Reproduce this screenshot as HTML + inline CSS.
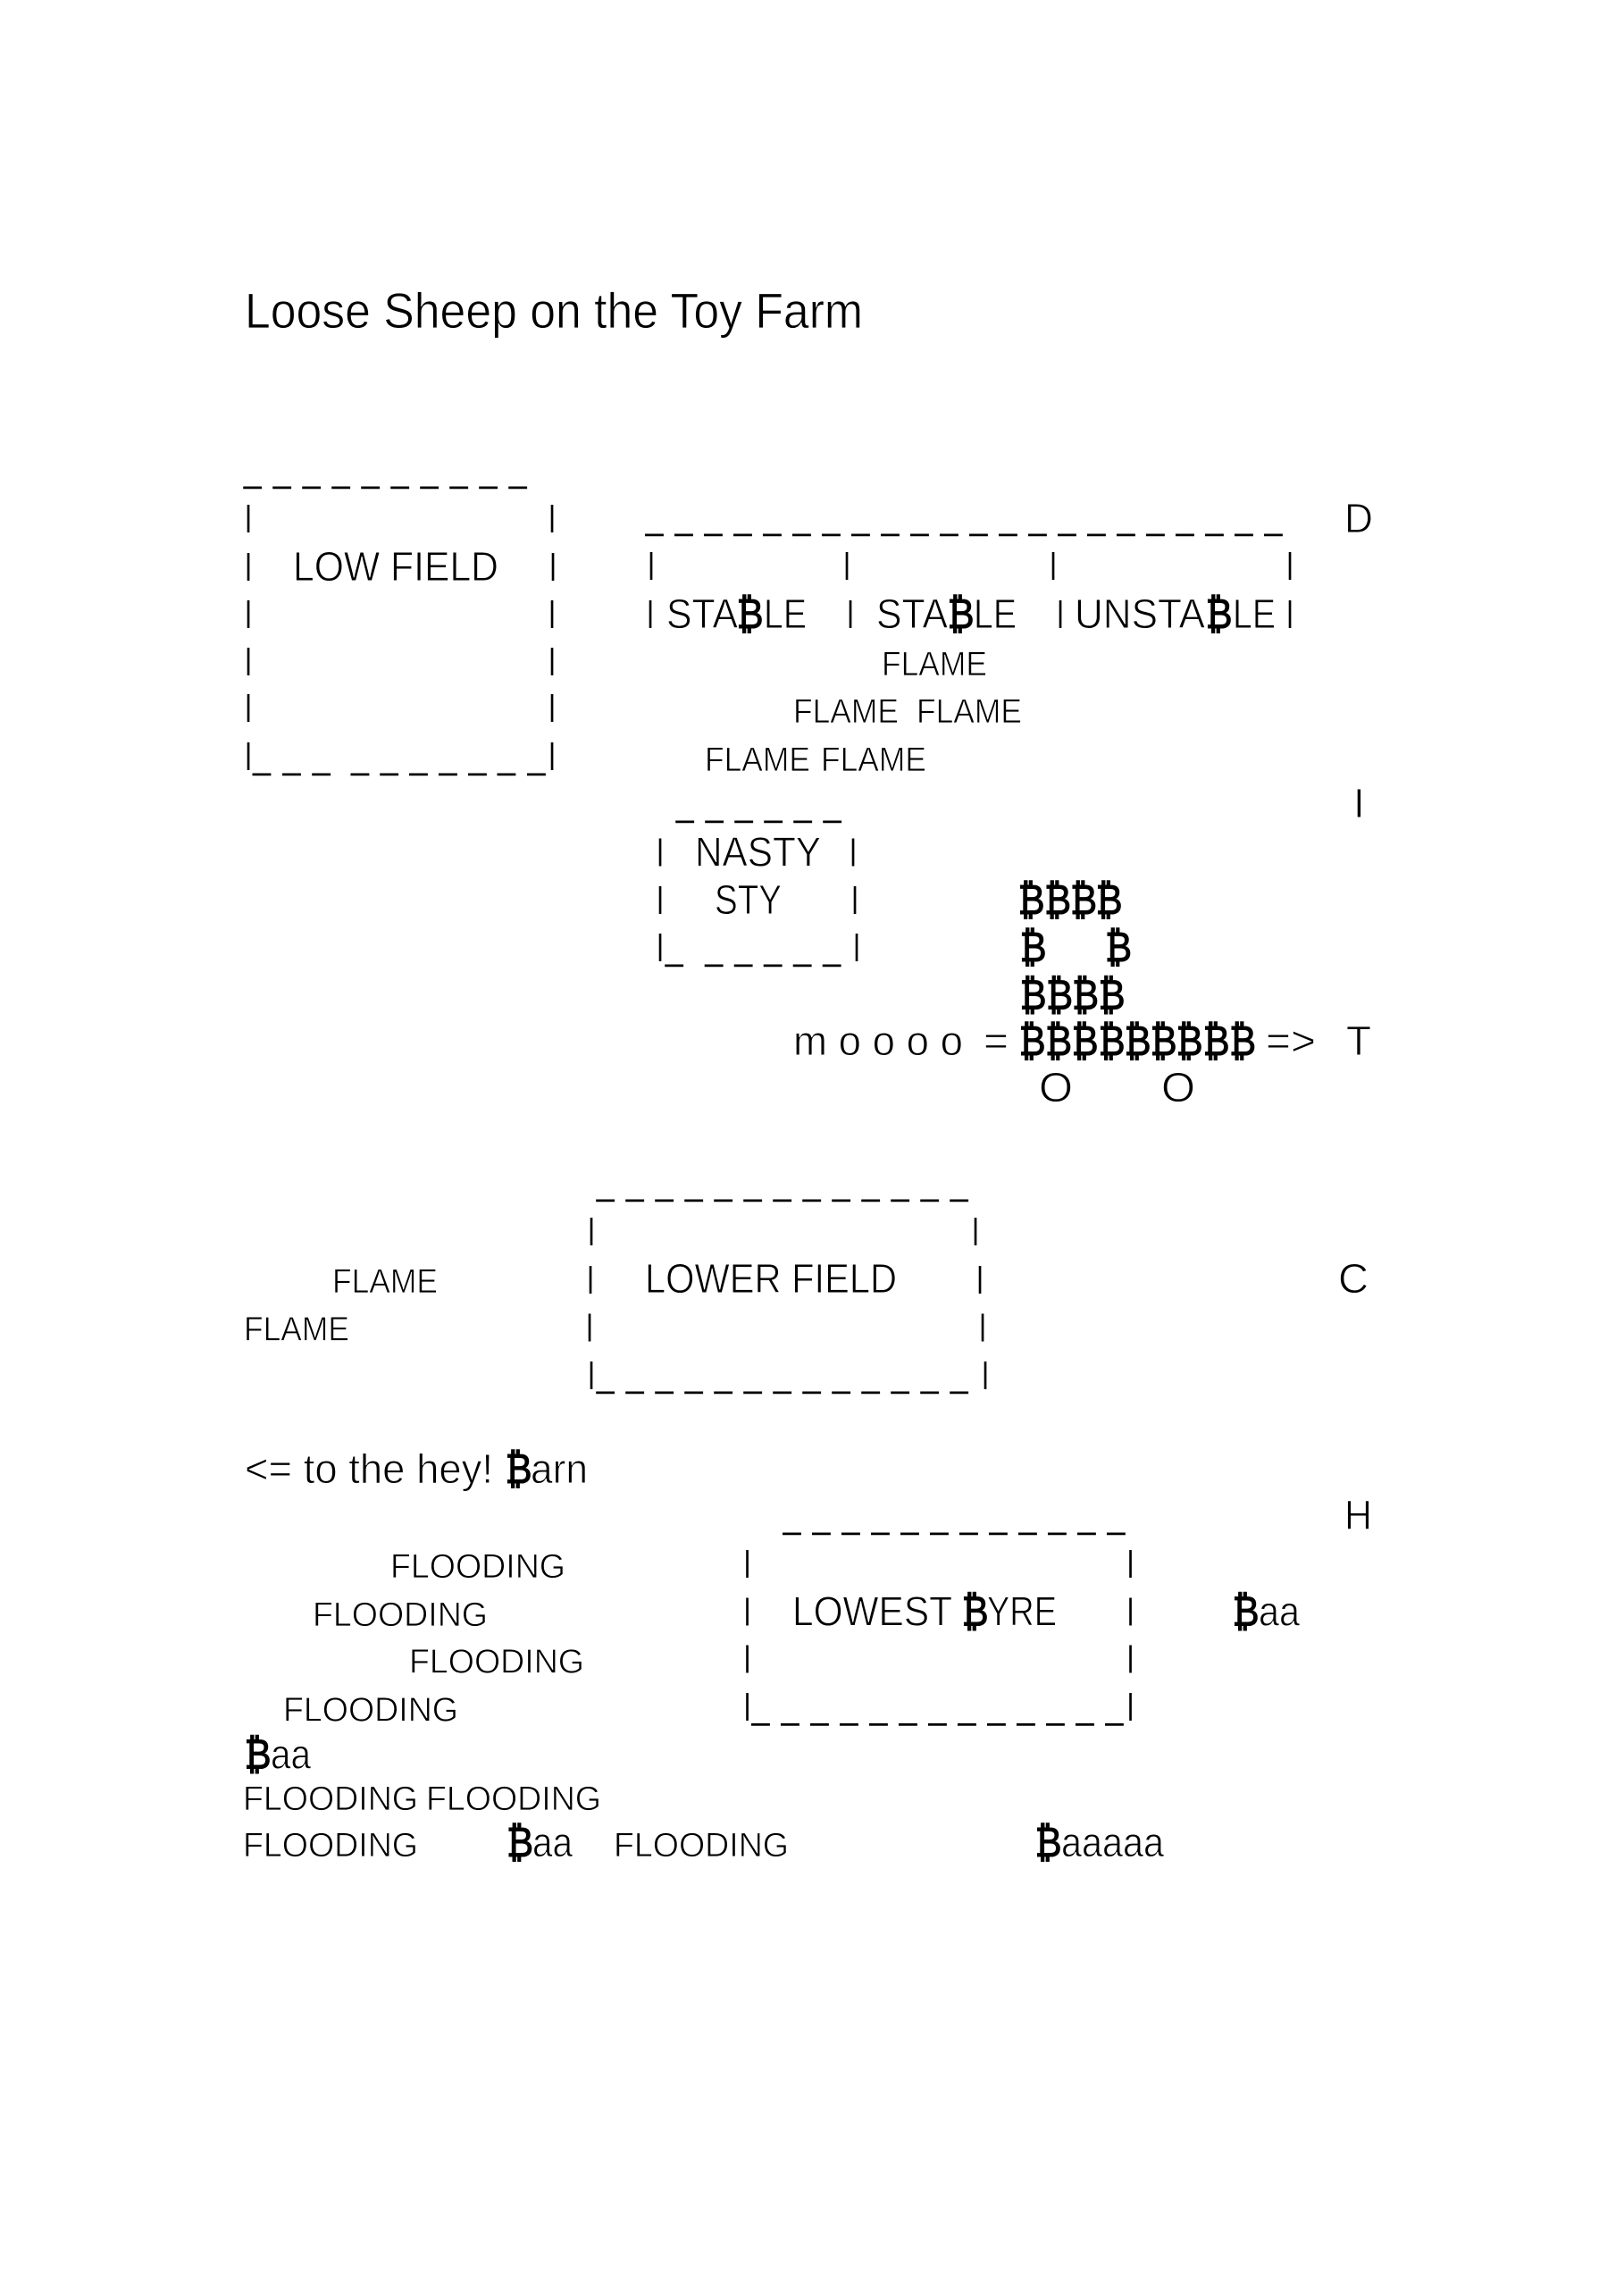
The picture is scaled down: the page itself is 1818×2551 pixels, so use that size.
<!DOCTYPE html>
<html><head><meta charset="utf-8"><title>Loose Sheep on the Toy Farm</title>
<style>
html,body{margin:0;padding:0;background:#fff}
svg{display:block}
text{font-family:"Liberation Sans","DejaVu Sans",sans-serif;fill:#000}
.t{font-size:46px;stroke:#fff;stroke-width:.9px}
.f{font-size:38px;stroke:#fff;stroke-width:.8px}
.h{font-size:56px;stroke:#fff;stroke-width:.8px}
.c{font-size:46px;stroke:#000;stroke-width:1.1px}
.b{font-size:33px;text-anchor:middle}
.d{font-size:35px;stroke:#000;stroke-width:.5px}
</style></head><body>
<svg xmlns="http://www.w3.org/2000/svg" width="1818" height="2551" viewBox="0 0 1818 2551">
<rect width="1818" height="2551" fill="#fff"/>
<text class="h" x="274" y="367" textLength="692" lengthAdjust="spacingAndGlyphs">Loose Sheep on the Toy Farm</text>

<!-- LOW FIELD -->
<text class="d" y="540" x="273 306 339 372 405 438 471 504 537 570">__________</text>
<text class="b" y="589" x="278">|</text><text class="b" y="589" x="618">|</text>
<text class="b" y="643" x="278">|</text><text class="b" y="643" x="619">|</text>
<text class="b" y="696" x="278">|</text><text class="b" y="696" x="618">|</text>
<text class="b" y="749" x="278">|</text><text class="b" y="749" x="618">|</text>
<text class="b" y="801" x="278">|</text><text class="b" y="801" x="618">|</text>
<text class="b" y="855" x="278">|</text><text class="b" y="855" x="618">|</text>
<text class="d" y="861" x="283.3 316.7 350 393.3 426 458.7 491.7 524.7 557.3 590.7">__________</text>
<text class="t" x="328" y="650" textLength="230" lengthAdjust="spacingAndGlyphs">LOW FIELD</text>

<!-- STABLES -->
<text class="d" y="593" x="722.7 755.7 788.7 821.7 854.7 887.7 920.7 953.7 986.7 1019.7 1052.7 1085.7 1118.7 1151.7 1184.7 1217.7 1250.7 1283.7 1316.7 1349.7 1382.7 1415.7">______________________</text>
<text class="b" y="642" x="729">|</text><text class="b" y="642" x="948">|</text><text class="b" y="642" x="1179">|</text><text class="b" y="642" x="1444">|</text>
<text class="b" y="696" x="728">|</text><text class="b" y="696" x="952">|</text><text class="b" y="696" x="1187">|</text><text class="b" y="696" x="1444">|</text>
<text class="t" x="746" y="703" textLength="80" lengthAdjust="spacingAndGlyphs">STA</text><text class="c" x="824.5" y="703" textLength="30" lengthAdjust="spacingAndGlyphs">₿</text><text class="t" x="855" y="703" textLength="48" lengthAdjust="spacingAndGlyphs">LE</text>
<text class="t" x="981" y="703" textLength="80" lengthAdjust="spacingAndGlyphs">STA</text><text class="c" x="1060.5" y="703" textLength="30" lengthAdjust="spacingAndGlyphs">₿</text><text class="t" x="1090" y="703" textLength="48" lengthAdjust="spacingAndGlyphs">LE</text>
<text class="t" x="1203" y="703" textLength="146" lengthAdjust="spacingAndGlyphs">UNSTA</text><text class="c" x="1349.5" y="703" textLength="30" lengthAdjust="spacingAndGlyphs">₿</text><text class="t" x="1380" y="703" textLength="48" lengthAdjust="spacingAndGlyphs">LE</text>

<text class="f" x="987" y="756" textLength="118" lengthAdjust="spacingAndGlyphs">FLAME</text>
<text class="f" x="888" y="809" textLength="118" lengthAdjust="spacingAndGlyphs">FLAME</text>
<text class="f" x="1026" y="809" textLength="118" lengthAdjust="spacingAndGlyphs">FLAME</text>
<text class="f" x="789" y="863" textLength="118" lengthAdjust="spacingAndGlyphs">FLAME</text>
<text class="f" x="919" y="863" textLength="118" lengthAdjust="spacingAndGlyphs">FLAME</text>

<!-- RIGHT LETTERS -->
<text class="t" x="1505" y="596" textLength="32" lengthAdjust="spacingAndGlyphs">D</text>
<text class="t" x="1515" y="915">I</text>
<text class="t" x="1507" y="1181" textLength="28" lengthAdjust="spacingAndGlyphs">T</text>
<text class="t" x="1498" y="1447" textLength="34" lengthAdjust="spacingAndGlyphs">C</text>
<text class="t" x="1505" y="1712" textLength="31" lengthAdjust="spacingAndGlyphs">H</text>

<!-- NASTY STY -->
<text class="d" y="914" x="757 790 823 856 889 922">______</text>
<text class="b" y="962.5" x="739">|</text><text class="b" y="962.5" x="955">|</text>
<text class="b" y="1016" x="739">|</text><text class="b" y="1016" x="957">|</text>
<text class="b" y="1069" x="739">|</text><text class="b" y="1069" x="959">|</text>
<text class="d" y="1075" x="745 789.5 822.5 855.5 888.5 921.5">______</text>
<text class="t" x="778" y="969.5" textLength="141" lengthAdjust="spacingAndGlyphs">NASTY</text>
<text class="t" x="800" y="1023" textLength="75" lengthAdjust="spacingAndGlyphs">STY</text>

<!-- COW -->
<text class="c" y="1023" x="1139.5" textLength="30" lengthAdjust="spacingAndGlyphs">₿</text><text class="c" y="1023" x="1169" textLength="30" lengthAdjust="spacingAndGlyphs">₿</text><text class="c" y="1023" x="1198" textLength="30" lengthAdjust="spacingAndGlyphs">₿</text><text class="c" y="1023" x="1226.5" textLength="30" lengthAdjust="spacingAndGlyphs">₿</text>
<text class="c" y="1076" x="1141.5" textLength="30" lengthAdjust="spacingAndGlyphs">₿</text><text class="c" y="1076" x="1237" textLength="30" lengthAdjust="spacingAndGlyphs">₿</text>
<text class="c" y="1129.5" x="1141.5" textLength="30" lengthAdjust="spacingAndGlyphs">₿</text><text class="c" y="1129.5" x="1171" textLength="30" lengthAdjust="spacingAndGlyphs">₿</text><text class="c" y="1129.5" x="1200" textLength="30" lengthAdjust="spacingAndGlyphs">₿</text><text class="c" y="1129.5" x="1229.5" textLength="30" lengthAdjust="spacingAndGlyphs">₿</text>
<text class="c" y="1181" x="1140.5" textLength="30" lengthAdjust="spacingAndGlyphs">₿</text><text class="c" y="1181" x="1170" textLength="30" lengthAdjust="spacingAndGlyphs">₿</text><text class="c" y="1181" x="1199.5" textLength="30" lengthAdjust="spacingAndGlyphs">₿</text><text class="c" y="1181" x="1229.5" textLength="30" lengthAdjust="spacingAndGlyphs">₿</text><text class="c" y="1181" x="1258.5" textLength="30" lengthAdjust="spacingAndGlyphs">₿</text><text class="c" y="1181" x="1287.5" textLength="30" lengthAdjust="spacingAndGlyphs">₿</text><text class="c" y="1181" x="1316.5" textLength="30" lengthAdjust="spacingAndGlyphs">₿</text><text class="c" y="1181" x="1346.5" textLength="30" lengthAdjust="spacingAndGlyphs">₿</text><text class="c" y="1181" x="1376" textLength="30" lengthAdjust="spacingAndGlyphs">₿</text>
<text class="t" x="888" y="1181" textLength="190" lengthAdjust="spacingAndGlyphs">m o o o o</text>
<text class="t" x="1101" y="1181" textLength="28" lengthAdjust="spacingAndGlyphs">=</text>
<text class="t" x="1417" y="1181" textLength="56" lengthAdjust="spacingAndGlyphs">=&gt;</text>
<text class="t" x="1163" y="1233" textLength="38" lengthAdjust="spacingAndGlyphs">O</text>
<text class="t" x="1300" y="1233" textLength="38" lengthAdjust="spacingAndGlyphs">O</text>

<!-- LOWER FIELD -->
<text class="d" y="1338" x="668 701 734 767 800 833 866 899 932 965 998 1031 1064">_____________</text>
<text class="b" y="1387" x="662">|</text><text class="b" y="1387" x="1092">|</text>
<text class="b" y="1441" x="661">|</text><text class="b" y="1441" x="1097">|</text>
<text class="b" y="1494.5" x="660">|</text><text class="b" y="1494.5" x="1100">|</text>
<text class="b" y="1548" x="662">|</text><text class="b" y="1548" x="1103">|</text>
<text class="d" y="1553" x="668 701 734 767 800 833 866 899 932 965 998 1031 1064">_____________</text>
<text class="t" x="722" y="1447" textLength="282" lengthAdjust="spacingAndGlyphs">LOWER FIELD</text>
<text class="f" x="372" y="1447" textLength="118" lengthAdjust="spacingAndGlyphs">FLAME</text>
<text class="f" x="273" y="1500.5" textLength="118" lengthAdjust="spacingAndGlyphs">FLAME</text>

<text class="t" x="274" y="1660" textLength="278" lengthAdjust="spacingAndGlyphs">&lt;= to the hey!</text>
<text class="c" x="565.5" y="1660" textLength="30" lengthAdjust="spacingAndGlyphs">₿</text>
<text class="t" x="594" y="1660" textLength="64" lengthAdjust="spacingAndGlyphs">arn</text>

<!-- LOWEST BYRE -->
<text class="d" y="1711" x="876.7 909.7 942.7 975.7 1008.7 1041.7 1074.7 1107.7 1140.7 1173.7 1206.7 1239.7">____________</text>
<text class="b" y="1759" x="836.5">|</text><text class="b" y="1759" x="1265.5">|</text>
<text class="b" y="1812.5" x="836.5">|</text><text class="b" y="1812.5" x="1265.5">|</text>
<text class="b" y="1865.5" x="836.5">|</text><text class="b" y="1865.5" x="1265.5">|</text>
<text class="b" y="1919" x="836.5">|</text><text class="b" y="1919" x="1265.5">|</text>
<text class="d" y="1924.5" x="841.7 874.7 907.7 940.7 973.7 1006.7 1039.7 1072.7 1105.7 1138.7 1171.7 1204.7 1237.7">_____________</text>
<text class="t" x="887" y="1819.5" textLength="179" lengthAdjust="spacingAndGlyphs">LOWEST</text>
<text class="c" x="1076.5" y="1819.5" textLength="30" lengthAdjust="spacingAndGlyphs">₿</text>
<text class="t" x="1105" y="1819.5" textLength="78" lengthAdjust="spacingAndGlyphs">YRE</text>
<text class="c" x="1379.5" y="1819.5" textLength="30" lengthAdjust="spacingAndGlyphs">₿</text>
<text class="t" x="1409" y="1819.5" textLength="46" lengthAdjust="spacingAndGlyphs">aa</text>

<!-- FLOODING -->
<text class="f" x="437" y="1766" textLength="196" lengthAdjust="spacingAndGlyphs">FLOODING</text>
<text class="f" x="350" y="1820" textLength="196" lengthAdjust="spacingAndGlyphs">FLOODING</text>
<text class="f" x="458" y="1872.7" textLength="196" lengthAdjust="spacingAndGlyphs">FLOODING</text>
<text class="f" x="317" y="1926.7" textLength="196" lengthAdjust="spacingAndGlyphs">FLOODING</text>
<text class="c" x="273.5" y="1979.5" textLength="30" lengthAdjust="spacingAndGlyphs">₿</text>
<text class="t" x="303" y="1979.5" textLength="45" lengthAdjust="spacingAndGlyphs">aa</text>
<text class="f" x="272" y="2026" textLength="196" lengthAdjust="spacingAndGlyphs">FLOODING</text>
<text class="f" x="477" y="2026" textLength="196" lengthAdjust="spacingAndGlyphs">FLOODING</text>
<text class="f" x="272" y="2078" textLength="196" lengthAdjust="spacingAndGlyphs">FLOODING</text>
<text class="c" x="567" y="2078" textLength="30" lengthAdjust="spacingAndGlyphs">₿</text>
<text class="t" x="596" y="2078" textLength="45" lengthAdjust="spacingAndGlyphs">aa</text>
<text class="f" x="687" y="2078" textLength="196" lengthAdjust="spacingAndGlyphs">FLOODING</text>
<text class="c" x="1158.5" y="2078" textLength="30" lengthAdjust="spacingAndGlyphs">₿</text>
<text class="t" x="1188" y="2078" textLength="115" lengthAdjust="spacingAndGlyphs">aaaaa</text>
</svg>
</body></html>
